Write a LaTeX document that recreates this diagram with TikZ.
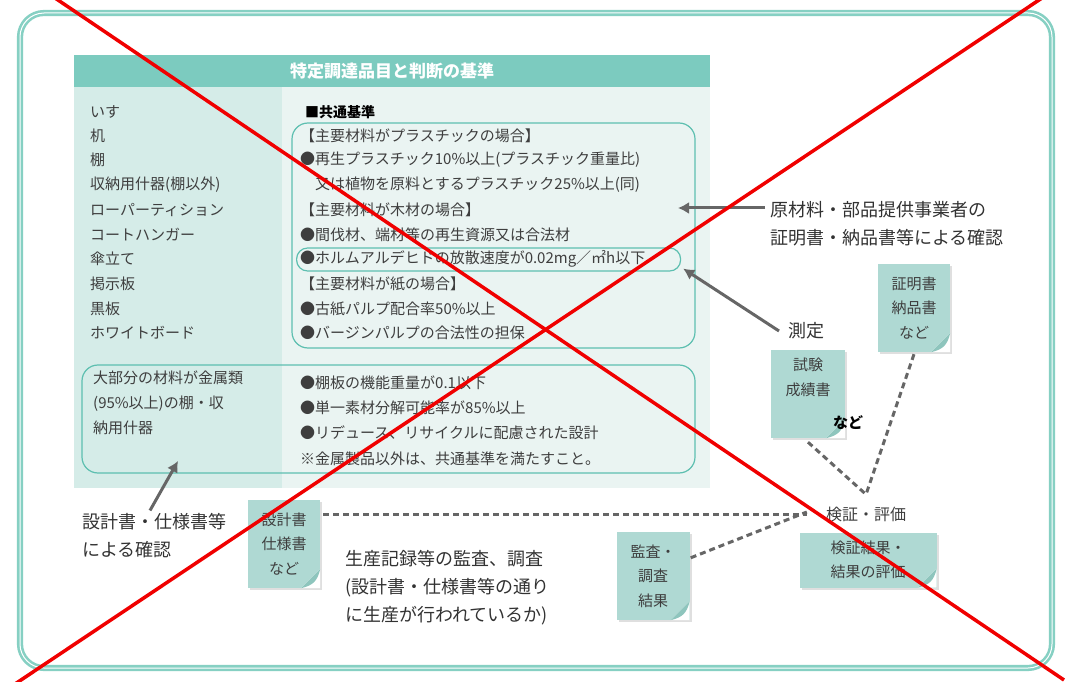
\documentclass[tikz,border=0pt]{standalone}
\usepackage{fontspec}
\setmainfont{Noto Sans CJK JP}
\usetikzlibrary{positioning,arrows.meta,shadows}

\definecolor{frameteal}{HTML}{86D0C3}
\definecolor{hdteal}{HTML}{7CCBBF}
\definecolor{leftfill}{HTML}{D5ECE8}
\definecolor{rightfill}{HTML}{EAF4F2}
\definecolor{boxteal}{HTML}{5DBFB0}
\definecolor{memofill}{HTML}{AFD9D3}
\definecolor{foldteal}{HTML}{8EC5BD}
\definecolor{txtgray}{HTML}{3E3E3E}
\definecolor{arrgray}{HTML}{666666}
\definecolor{xred}{HTML}{F00000}

\tikzset{
  listitem/.style={anchor=west, inner sep=0pt, text=txtgray, font=\fontsize{15}{24}\selectfont},
  notetext/.style={anchor=west, inner sep=0pt, align=left, text=txtgray!80!black, font=\fontsize{18}{28}\selectfont},
  memo/.style={fill=memofill, align=center, inner sep=0pt, text=txtgray,
    font=\fontsize{15}{24.5}\selectfont,
    drop shadow={opacity=0.25, shadow xshift=2pt, shadow yshift=-2pt}},
  boxline/.style={draw=boxteal, line width=1.2pt},
  grayarrow/.style={draw=arrgray, line width=3pt, -{Latex[length=11pt,width=12pt]}},
  dotlink/.style={draw=arrgray, line width=3pt, dash pattern=on 6pt off 4pt},
}

% folded corner of a memo
\newcommand\memofold[1]{%
  \fill[white] ([xshift=-19pt]#1.south east) -- (#1.south east) -- ([yshift=19pt]#1.south east) -- cycle;
  \fill[foldteal] ([xshift=-19pt]#1.south east) .. controls ([xshift=-7pt,yshift=3pt]#1.south east) and ([xshift=-3pt,yshift=7pt]#1.south east) .. ([yshift=19pt]#1.south east) -- cycle;
}

\begin{document}
\begin{tikzpicture}[x=1pt,y=-1pt]
    \useasboundingbox (0,0) rectangle (1069,682);
    \def\lx{90}
    \def\rx{300}

    \draw[frameteal, line width=2.6pt, double=white, double distance=1pt, rounded corners=24pt] (20,13) rectangle (1052,668);

    % panels
    \fill[leftfill] (74,87) rectangle (282,488);
    \fill[rightfill] (282,87) rectangle (710,488);
    \node[fill=hdteal, minimum width=636pt, minimum height=32pt, inner sep=0pt, text=white,
      font=\fontsize{17}{20}\selectfont\bfseries] (midashi) at (392,71) {特定調達品目と判断の基準};

    % hinmoku
    \node[listitem] (isu) at (\lx,112) {いす};
    \node[listitem] (tsukue) at (\lx,136) {机};
    \node[listitem] (tana) at (\lx,160) {棚};
    \node[listitem] (shuno) at (\lx,185) {収納用什器(棚以外)};
    \node[listitem] (partition) at (\lx,210) {ローパーティション};
    \node[listitem] (hanger) at (\lx,235) {コートハンガー};
    \node[listitem] (kasatate) at (\lx,259) {傘立て};
    \node[listitem] (keiji) at (\lx,284) {掲示板};
    \node[listitem] (kokuban) at (\lx,309) {黒板};
    \node[listitem] (whiteboard) at (\lx,333) {ホワイトボード};

    % kyotsu kijun
    \node[listitem, text=black, font=\fontsize{14}{24}\selectfont\bfseries] (kyotsu) at (305,112) {■共通基準};
    \draw[boxline, rounded corners=16pt] (292,123) rectangle (695,348);
    \node[listitem] (plastic) at (\rx,136) {【主要材料がプラスチックの場合】};
    \node[listitem] (plastic1) at (\rx,160) {●再生プラスチック10\%以上(プラスチック重量比)};
    \node[listitem] (plastic2) at (\rx,185) {\hspace{15pt}又は植物を原料とするプラスチック25\%以上(同)};
    \node[listitem] (mokuzai) at (\rx,210) {【主要材料が木材の場合】};
    \node[listitem] (mokuzai1) at (\rx,235) {●間伐材、端材等の再生資源又は合法材};
    \node[boxline, rounded corners=11pt, minimum width=384pt, minimum height=23pt, anchor=west] (formalin) at (296,259.5) {};
    \node[listitem] (mokuzai2) at (\rx,259) {●ホルムアルデヒドの放散速度が0.02mg／㎡h以下};
    \node[listitem] (kami) at (\rx,284) {【主要材料が紙の場合】};
    \node[listitem] (kami1) at (\rx,309) {●古紙パルプ配合率50\%以上};
    \node[listitem] (kami2) at (\rx,333) {●バージンパルプの合法性の担保};

    % kinzoku
    \draw[boxline, rounded corners=16pt] (82,365) rectangle (695,473);
    \node[listitem, align=left, font=\fontsize{15}{25}\selectfont, anchor=north west] (kinzoku) at (93,371) {大部分の材料が金属類\\(95\%以上)の棚・収\\納用什器};
    \node[listitem] (kinzoku1) at (\rx,383) {●棚板の機能重量が0.1以下};
    \node[listitem] (kinzoku2) at (\rx,408) {●単一素材分解可能率が85\%以上};
    \node[listitem] (kinzoku3) at (\rx,433) {●リデュース、リサイクルに配慮された設計};
    \node[listitem] (kinzoku4) at (\rx,459) {※金属製品以外は、共通基準を満たすこと。};

    % kakunin
    \node[notetext] (genzairyo) at (770,224) {原材料・部品提供事業者の\\証明書・納品書等による確認};
    \coordinate (yaji1) at (678,208);
    \draw[grayarrow] ([xshift=-5pt]genzairyo.west |- yaji1) -- (yaji1);
    \node[notetext] (sokutei) at (788,331) {測定};
    \draw[grayarrow] ([xshift=-9pt]sokutei.west) -- ([xshift=2pt,yshift=3pt]formalin.south east);
    \node[notetext] (sekkeikakunin) at (82,536) {設計書・仕様書等\\による確認};
    \coordinate (yaji3) at (178,461);
    \draw[grayarrow] ([xshift=68pt,yshift=3pt]sekkeikakunin.north west) -- (yaji3);
    \node[notetext] (kansa) at (345,588) {生産記録等の監査、調査\\(設計書・仕様書等の通り\\に生産が行われているか)};

    % memos
    \node[memo, minimum width=72pt, minimum height=88pt] (shomei) at (914,308) {証明書\\納品書\\など};
    \memofold{shomei}
    \node[memo, minimum width=74pt, minimum height=88pt] (shiken) at (808,394) {試験\\成績書\\[10pt]};
    \memofold{shiken}
    \node[inner sep=0pt, font=\fontsize{15}{18}\selectfont\bfseries] (nado) at (848,423) {など};
    \node[memo, minimum width=72pt, minimum height=88pt] (sekkeisho) at (284,544) {設計書\\仕様書\\など};
    \memofold{sekkeisho}
    \node[memo, minimum width=73pt, minimum height=88pt] (kansakekka) at (653,576) {監査・\\調査\\結果};
    \memofold{kansakekka}
    \node[memo, minimum width=137pt, minimum height=55pt] (kenshokekka) at (868,560) {検証結果・\\結果の評価};
    \memofold{kenshokekka}
    \node[inner sep=3pt, text=txtgray, font=\fontsize{16}{18}\selectfont] (kensho) at (866,514) {検証・評価};

    % dashes
    \draw[dotlink] ([yshift=-2pt]shomei.south) -- ([yshift=9pt]kensho.north);
    \draw[dotlink] ([yshift=-4pt]shiken.south) -- ([yshift=9pt]kensho.north);
    \draw[dotlink] ([xshift=3pt]sekkeisho.north east |- kensho.west) -- ([xshift=-16pt]kensho.west);
    \draw[dotlink] ([xshift=1pt,yshift=-26pt]kansakekka.north east) -- ([xshift=-16pt,yshift=2pt]kensho.west);

    % batsu
    \draw[xred, line width=3.5pt] (55,-2) -- (1064,680);
    \draw[xred, line width=3.5pt] (1042,-2) -- (15,684);
\end{tikzpicture}
\end{document}
